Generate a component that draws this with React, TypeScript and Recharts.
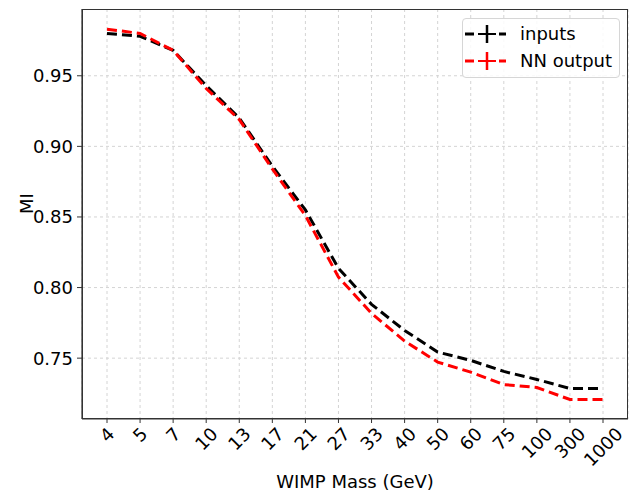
import React from 'react';
import { LineChart, Line, XAxis, YAxis, CartesianGrid, Legend } from 'recharts';

const MASSES = ['4', '5', '7', '10', '13', '17', '21', '27', '33', '40', '50', '60', '75', '100', '300', '1000'];
const INPUTS = [0.980, 0.978, 0.968, 0.943, 0.920, 0.886, 0.855, 0.8136, 0.7881, 0.7696, 0.7543, 0.7484, 0.7406, 0.7349, 0.7285, 0.7285];
const NN_OUTPUT = [0.983, 0.980, 0.968, 0.941, 0.919, 0.884, 0.851, 0.8074, 0.7817, 0.7621, 0.7472, 0.7401, 0.7313, 0.7292, 0.7207, 0.7207];
const Y_TICKS = [0.75, 0.8, 0.85, 0.9, 0.95];

const data = MASSES.map((m, i) => ({ mass: m, inputs: INPUTS[i], nn: NN_OUTPUT[i] }));

const FONT = 'DejaVu Sans, sans-serif';
const FS = 18;

// plot area box (matches chart margin + axis sizes below)
const PLOT = { left: 82, top: 9, right: 628, bottom: 419 };

const XTick = ({ x, y, payload }: any) => {
  const s = String(payload.value);
  const w = s.length * 0.636 * FS;
  const half = ((w + FS * 0.73) * 0.7071) / 2;
  const cy = y + 3 + half;
  return (
    <text
      x={x}
      y={cy}
      transform={`rotate(-45 ${x} ${cy})`}
      textAnchor="middle"
      dominantBaseline="central"
      fontSize={FS}
      fontFamily={FONT}
      fill="#000"
    >
      {s}
    </text>
  );
};

// dashed line with an error-bar cross in the middle, like matplotlib's errorbar handle
const LegendIcon = ({ color }: { color: string }) => (
  <svg width={42} height={20} style={{ marginRight: 14, flexShrink: 0 }}>
    <line x1={1} y1={10} x2={10} y2={10} stroke={color} strokeWidth={3} />
    <line x1={14} y1={10} x2={32} y2={10} stroke={color} strokeWidth={2} />
    <line x1={35} y1={10} x2={42} y2={10} stroke={color} strokeWidth={3} />
    <line x1={23} y1={1} x2={23} y2={19} stroke={color} strokeWidth={2.5} />
  </svg>
);

const renderLegend = () => (
  <div
    style={{
      border: '1px solid #d6d6d6',
      borderRadius: 4,
      background: 'rgba(255,255,255,0.85)',
      padding: '1px 4px 4px 1px',
      fontFamily: FONT,
      fontSize: FS,
      color: '#000',
      boxSizing: 'border-box',
      height: 60,
      whiteSpace: 'nowrap',
    }}
  >
    {[
      { name: 'inputs', color: '#000' },
      { name: 'NN output', color: '#ff0000' },
    ].map((it) => (
      <div key={it.name} style={{ display: 'flex', alignItems: 'center', height: 27 }}>
        <LegendIcon color={it.color} />
        <span>{it.name}</span>
      </div>
    ))}
  </div>
);

export default function App() {
  return (
    <div style={{ position: 'absolute', left: 0, top: 0, width: 633, height: 491, background: '#fff' }}>
      <LineChart width={633} height={491} data={data} margin={{ top: 9, right: 5, left: 0, bottom: 0 }}>
        <CartesianGrid stroke="#d4d4d4" strokeDasharray="3 3" horizontalValues={Y_TICKS} />
        <XAxis
          dataKey="mass"
          interval={0}
          height={72}
          padding={{ left: 25, right: 25 }}
          tick={<XTick />}
          tickSize={4}
          tickMargin={0}
          axisLine={{ stroke: '#333', strokeWidth: 1.2 }}
          tickLine={{ stroke: '#333' }}
          label={{ value: 'WIMP Mass (GeV)', position: 'insideBottom', offset: 3, fontSize: FS, fontFamily: FONT, fill: '#000' }}
        />
        <YAxis
          domain={[0.7069, 0.9973]}
          ticks={Y_TICKS}
          allowDataOverflow
          width={82}
          tickFormatter={(v: number) => v.toFixed(2)}
          tick={{ fontSize: FS, fontFamily: FONT, fill: '#000' }}
          tickSize={5}
          tickMargin={4}
          axisLine={{ stroke: '#333', strokeWidth: 1.2 }}
          tickLine={{ stroke: '#333' }}
          label={{ value: 'MI', angle: -90, position: 'insideLeft', offset: 27, fontSize: FS, fontFamily: FONT, fill: '#000' }}
        />
        <Legend
          layout="vertical"
          align="center"
          verticalAlign="middle"
          content={renderLegend}
          wrapperStyle={{ top: 18, left: 462, width: 158 }}
        />
        <Line
          dataKey="inputs"
          name="inputs"
          stroke="#000"
          strokeWidth={3}
          strokeDasharray="10 5"
          dot={false}
          isAnimationActive={false}
        />
        <Line
          dataKey="nn"
          name="NN output"
          stroke="#ff0000"
          strokeWidth={3}
          strokeDasharray="10 5"
          dot={false}
          isAnimationActive={false}
        />
      </LineChart>
      <div
        style={{
          position: 'absolute',
          left: PLOT.left,
          top: PLOT.top,
          width: PLOT.right - PLOT.left,
          height: PLOT.bottom - PLOT.top,
          border: '1.2px solid #333',
          boxSizing: 'border-box',
          pointerEvents: 'none',
        }}
      />
    </div>
  );
}
